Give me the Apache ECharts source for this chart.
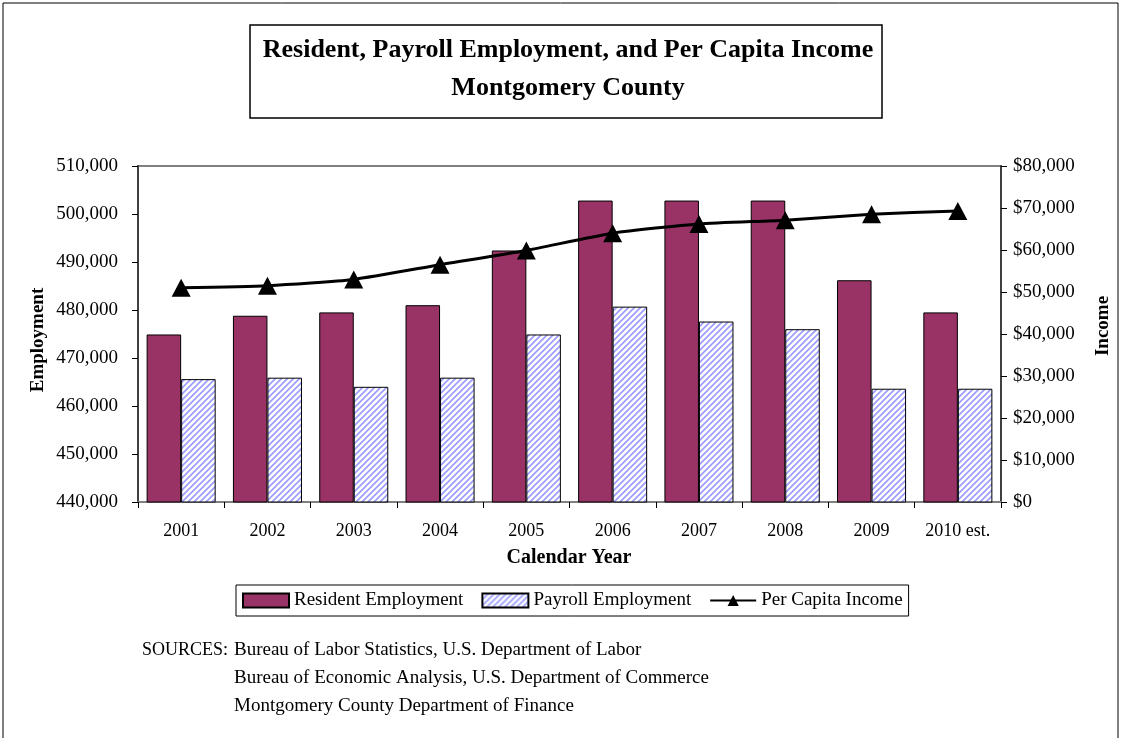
<!DOCTYPE html>
<html>
<head>
<meta charset="utf-8">
<title>Resident, Payroll Employment, and Per Capita Income</title>
<script src="https://cdn.jsdelivr.net/npm/echarts@6/dist/echarts.min.js"></script>
<style>
  html, body { margin: 0; padding: 0; background: #fff; }
  #chart { width: 1121px; height: 738px; }
</style>
</head>
<body>
<div id="chart"></div>
<script>
// data
var years = ["2001", "2002", "2003", "2004", "2005", "2006", "2007", "2008", "2009", "2010 est."];
var residentEmployment = [474900, 478800, 479500, 481000, 492400, 502800, 502800, 502800, 486200, 479500];
var payrollEmployment = [465600, 465900, 464000, 465900, 474900, 480700, 477600, 476000, 463600, 463600];
var perCapitaIncome = [51000, 51500, 53000, 56500, 59900, 64000, 66200, 67100, 68500, 69300];

var font = "Liberation Serif";

// hatched fill for the payroll bars
function makeHatch() {
  var c = document.createElement("canvas");
  c.width = 6;
  c.height = 6;
  var ctx = c.getContext("2d");
  ctx.fillStyle = "#ffffff";
  ctx.fillRect(0, 0, 6, 6);
  ctx.strokeStyle = "#9a9aff";
  ctx.lineWidth = 1.6;
  ctx.beginPath();
  ctx.moveTo(-3, 3); ctx.lineTo(3, -3);
  ctx.moveTo(0, 6); ctx.lineTo(6, 0);
  ctx.moveTo(3, 9); ctx.lineTo(9, 3);
  ctx.stroke();
  return c;
}

var chart = echarts.init(document.getElementById("chart"));

var option = {
  animation: false,
  textStyle: { fontFamily: font, color: "#000" },
  grid: {
    left: 138,
    right: 120,
    top: 166,
    bottom: 236,
    show: true,
    borderColor: "#808080",
    borderWidth: 2
  },
  legend: {
    left: 236,
    top: 585,
    padding: [6, 6],
    itemGap: 18,
    itemWidth: 46,
    itemHeight: 14,
    borderColor: "#000",
    borderWidth: 1,
    textStyle: { fontFamily: font, fontSize: 19, color: "#000" },
    data: [
      { name: "Resident Employment", icon: "rect" },
      { name: "Payroll Employment", icon: "rect" },
      { name: "Per Capita Income" }
    ]
  },
  xAxis: {
    type: "category",
    data: years,
    axisLine: { lineStyle: { color: "#808080", width: 2 } },
    axisTick: { show: true, interval: 0, length: 6, lineStyle: { color: "#000" } },
    axisLabel: { interval: 0, hideOverlap: false, fontFamily: font, fontSize: 18, color: "#000", margin: 20 }
  },
  yAxis: [
    {
      type: "value",
      min: 440000,
      max: 510000,
      interval: 10000,
      splitLine: { show: false },
      axisLine: { show: true, lineStyle: { color: "#404040", width: 2 } },
      axisTick: { show: true, length: 6, lineStyle: { color: "#000" } },
      axisLabel: {
        fontFamily: font, fontSize: 19, color: "#000", margin: 20,
        formatter: function (v) { return v.toLocaleString("en-US"); }
      }
    },
    {
      type: "value",
      min: 0,
      max: 80000,
      interval: 10000,
      splitLine: { show: false },
      axisLine: { show: true, lineStyle: { color: "#404040", width: 2 } },
      axisTick: { show: true, length: 6, lineStyle: { color: "#000" } },
      axisLabel: {
        fontFamily: font, fontSize: 19, color: "#000", margin: 12,
        formatter: function (v) { return "$" + v.toLocaleString("en-US"); }
      }
    }
  ],
  series: [
    {
      name: "Resident Employment",
      type: "bar",
      data: residentEmployment,
      barGap: "0%",
      barCategoryGap: "20%",
      itemStyle: { color: "#993366", borderColor: "#000", borderWidth: 1 }
    },
    {
      name: "Payroll Employment",
      type: "bar",
      data: payrollEmployment,
      itemStyle: {
        color: { image: makeHatch(), repeat: "repeat" },
        borderColor: "#000",
        borderWidth: 1
      }
    },
    {
      name: "Per Capita Income",
      type: "line",
      yAxisIndex: 1,
      data: perCapitaIncome,
      smooth: 0.2,
      symbol: "triangle",
      symbolSize: [19, 18],
      itemStyle: { color: "#000" },
      lineStyle: { color: "#000", width: 3 }
    }
  ],
  graphic: [
    // outer frame
    {
      type: "rect",
      shape: { x: 3, y: 3, width: 1115, height: 745 },
      style: { fill: null, stroke: "#000", lineWidth: 1 },
      silent: true
    },
    // title box
    {
      type: "rect",
      shape: { x: 250, y: 25, width: 632, height: 93 },
      style: { fill: "#fff", stroke: "#000", lineWidth: 1.5 },
      silent: true
    },
    {
      type: "text",
      x: 568, y: 50,
      style: {
        text: "Resident, Payroll Employment, and Per Capita Income",
        font: "bold 26px " + font, fill: "#000",
        textAlign: "center", textVerticalAlign: "middle"
      }
    },
    {
      type: "text",
      x: 568, y: 88,
      style: {
        text: "Montgomery County",
        font: "bold 26px " + font, fill: "#000",
        textAlign: "center", textVerticalAlign: "middle"
      }
    },
    // axis names
    {
      type: "text",
      x: 38, y: 340, rotation: Math.PI / 2,
      style: {
        text: "Employment", font: "bold 19px " + font, fill: "#000",
        textAlign: "center", textVerticalAlign: "middle"
      }
    },
    {
      type: "text",
      x: 1103, y: 326, rotation: Math.PI / 2,
      style: {
        text: "Income", font: "bold 19px " + font, fill: "#000",
        textAlign: "center", textVerticalAlign: "middle"
      }
    },
    {
      type: "text",
      x: 569, y: 558,
      style: {
        text: "Calendar Year", font: "bold 20px " + font, fill: "#000",
        textAlign: "center", textVerticalAlign: "middle"
      }
    },
    // sources
    {
      type: "text",
      x: 142, y: 650,
      style: { text: "SOURCES:", font: "18px " + font, fill: "#000", textVerticalAlign: "middle" }
    },
    {
      type: "text",
      x: 234, y: 650,
      style: { text: "Bureau of Labor Statistics, U.S. Department of Labor", font: "19px " + font, fill: "#000", textVerticalAlign: "middle" }
    },
    {
      type: "text",
      x: 234, y: 678,
      style: { text: "Bureau of Economic Analysis, U.S. Department of Commerce", font: "19px " + font, fill: "#000", textVerticalAlign: "middle" }
    },
    {
      type: "text",
      x: 234, y: 706,
      style: { text: "Montgomery County Department of Finance", font: "19px " + font, fill: "#000", textVerticalAlign: "middle" }
    }
  ]
};

chart.setOption(option);
</script>
</body>
</html>
